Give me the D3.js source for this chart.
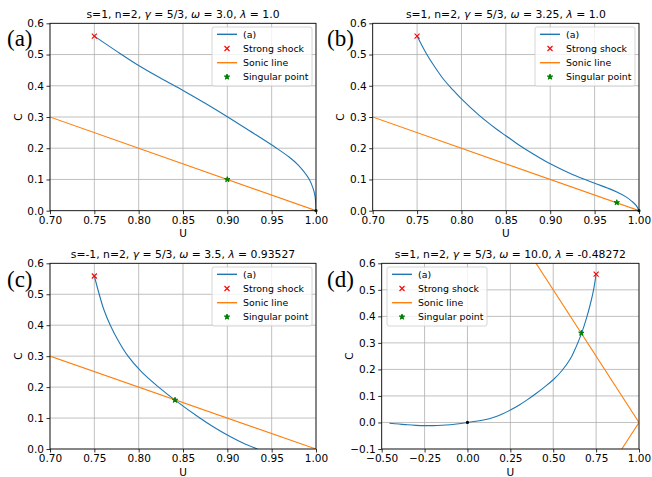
<!DOCTYPE html>
<html>
<head>
<meta charset="utf-8">
<script src="https://cdn.jsdelivr.net/npm/d3@7"></script>
<style>
  body { margin: 0; background: #fff; }
</style>
</head>
<body>
<svg width="652" height="477" font-family="DejaVu Sans, sans-serif"></svg>
<script>
// curve data (U, C)
var curveA_U = [0.75, 0.775, 0.80, 0.825, 0.85, 0.875, 0.90, 0.925, 0.9556, 0.97, 0.98, 0.9925, 0.997, 0.999, 1.0];
var curveA_C = [0.559, 0.511, 0.465, 0.424, 0.385, 0.344, 0.301, 0.256, 0.200, 0.171, 0.146, 0.100, 0.069, 0.045, 0.0];

var curveB_U = [0.75, 0.76, 0.77, 0.78, 0.79, 0.80, 0.82, 0.84, 0.85, 0.866, 0.88, 0.90, 0.925, 0.95, 0.965, 0.975, 0.985, 0.992, 0.997, 1.0];
var curveB_C = [0.559, 0.505, 0.460, 0.420, 0.388, 0.358, 0.305, 0.260, 0.240, 0.208, 0.183, 0.150, 0.116, 0.088, 0.072, 0.060, 0.045, 0.030, 0.016, 0.0];

var curveC_U = [0.75, 0.7555, 0.7608, 0.768, 0.777, 0.788, 0.803, 0.8225, 0.841, 0.869, 0.885, 0.90, 0.917, 0.934];
var curveC_C = [0.559, 0.50, 0.45, 0.40, 0.35, 0.30, 0.25, 0.20, 0.158, 0.10, 0.07, 0.045, 0.02, 0.0];

var curveD_U = [-0.455, -0.4, -0.35, -0.3, -0.25, -0.2, -0.15, -0.1, -0.05, 0.0, 0.05, 0.1, 0.15, 0.2, 0.25, 0.3, 0.35, 0.4, 0.45, 0.5, 0.55, 0.6, 0.632, 0.664, 0.697, 0.72, 0.736, 0.75];
var curveD_C = [-0.003, -0.006, -0.0088, -0.0108, -0.0119, -0.0119, -0.0107, -0.0083, -0.0047, 0.0, 0.0045, 0.0105, 0.019, 0.031, 0.047, 0.065, 0.086, 0.109, 0.134, 0.161, 0.195, 0.240, 0.283, 0.334, 0.400, 0.456, 0.503, 0.559];

// sonic line C = |1 - U|
var sonicU = [-0.5, 1.0, 0.5];
var sonicC = [1.5, 0.0, -0.5];

var shockU = 0.75, shockC = 0.559;
var singularA = [0.90, 0.10], singularB = [0.975, 0.026], singularC = [0.841, 0.158], singularD = [0.664, 0.337];
var originA = [1.0, 0.0], originB = [1.0, 0.0], originD = [0.0, 0.0];

var titles = [
  ["s=1, n=2, ", "3.0", "1.0"],
  ["s=1, n=2, ", "3.25", "1.0"],
  ["s=-1, n=2, ", "3.5", "0.93527"],
  ["s=1, n=2, ", "10.0", "-0.48272"]
];
var panelLabels = ["(a)", "(b)", "(c)", "(d)"];
var ticksX_ac = [0.70, 0.75, 0.80, 0.85, 0.90, 0.95, 1.00];
var ticksY_ac = [0.0, 0.1, 0.2, 0.3, 0.4, 0.5, 0.6];
var ticksX_d = [-0.50, -0.25, 0.00, 0.25, 0.50, 0.75, 1.00];
var ticksY_d = [-0.1, 0.0, 0.1, 0.2, 0.3, 0.4, 0.5, 0.6];
var legendNames = ["(a)", "Strong shock", "Sonic line", "Singular point"];

var blue = '#1f77b4', orange = '#ff7f0e';

var panels = [
  {box: [50, 316, 23.3, 210.7], xd: [0.7, 1.0], yd: [0, 0.6], xt: ticksX_ac, yt: ticksY_ac,
   U: curveA_U, C: curveA_C, sing: singularA, orig: originA, leg: [212, 27], lab: [7, 46]},
  {box: [372.7, 639, 23.3, 210.7], xd: [0.7, 1.0], yd: [0, 0.6], xt: ticksX_ac, yt: ticksY_ac,
   U: curveB_U, C: curveB_C, sing: singularB, orig: originB, leg: [535, 27], lab: [327, 46]},
  {box: [50, 316, 263.3, 449], xd: [0.7, 1.0], yd: [0, 0.6], xt: ticksX_ac, yt: ticksY_ac,
   U: curveC_U, C: curveC_C, sing: singularC, orig: null, leg: [212, 267], lab: [7, 287]},
  {box: [381.7, 639, 263.3, 449], xd: [-0.5, 1.0], yd: [-0.1, 0.6], xt: ticksX_d, yt: ticksY_d,
   U: curveD_U, C: curveD_C, sing: singularD, orig: originD, leg: [387, 267], lab: [327, 287]}
];

var svg = d3.select('svg');

var xMark = function(g, cx, cy) {
  var s = 2.5;
  g.append('path')
    .attr('d', 'M' + (cx - s) + ',' + (cy - s) + 'L' + (cx + s) + ',' + (cy + s) +
               'M' + (cx - s) + ',' + (cy + s) + 'L' + (cx + s) + ',' + (cy - s))
    .attr('stroke', 'red').attr('stroke-width', 1.1).attr('fill', 'none');
};
var starMark = function(g, cx, cy) {
  g.append('path')
    .attr('d', d3.symbol().type(d3.symbolStar).size(9)())
    .attr('transform', 'translate(' + cx + ',' + cy + ')')
    .attr('fill', 'green').attr('stroke', 'green').attr('stroke-width', 1);
};

panels.forEach(function(p, i) {
  var x = d3.scaleLinear().domain(p.xd).range([p.box[0], p.box[1]]);
  var y = d3.scaleLinear().domain(p.yd).range([p.box[3], p.box[2]]);
  var g = svg.append('g');

  // grid
  g.append('g').selectAll('line').data(p.xt).enter().append('line')
    .attr('x1', function(d) { return x(d); }).attr('x2', function(d) { return x(d); })
    .attr('y1', p.box[2]).attr('y2', p.box[3])
    .attr('stroke', '#b0b0b0').attr('stroke-width', 0.8);
  g.append('g').selectAll('line').data(p.yt).enter().append('line')
    .attr('y1', function(d) { return y(d); }).attr('y2', function(d) { return y(d); })
    .attr('x1', p.box[0]).attr('x2', p.box[1])
    .attr('stroke', '#b0b0b0').attr('stroke-width', 0.8);

  svg.append('clipPath').attr('id', 'clip' + i).append('rect')
    .attr('x', p.box[0]).attr('y', p.box[2])
    .attr('width', p.box[1] - p.box[0]).attr('height', p.box[3] - p.box[2]);

  var plot = g.append('g').attr('clip-path', 'url(#clip' + i + ')');

  var pts = p.U.map(function(u, k) { return [u, p.C[k]]; });
  var line = d3.line()
    .x(function(d) { return x(d[0]); })
    .y(function(d) { return y(d[1]); });

  plot.append('path').datum(pts)
    .attr('d', line.curve(d3.curveCatmullRom.alpha(0.5)))
    .attr('fill', 'none').attr('stroke', blue).attr('stroke-width', 1.1);

  var sonic = sonicU.map(function(u, k) { return [u, sonicC[k]]; });
  plot.append('path').datum(sonic)
    .attr('d', d3.line().x(function(d) { return x(d[0]); }).y(function(d) { return y(d[1]); }))
    .attr('fill', 'none').attr('stroke', orange).attr('stroke-width', 1.1);

  xMark(g, x(shockU), y(shockC));
  starMark(g, x(p.sing[0]), y(p.sing[1]));
  if (p.orig) {
    g.append('circle').attr('cx', x(p.orig[0])).attr('cy', y(p.orig[1])).attr('r', 1.6)
      .attr('fill', i === 3 ? 'black' : '#0a3d0a');
  }

  // axes
  var xf = d3.format('.2f'), yf = d3.format('.1f');
  var ax = g.append('g').attr('transform', 'translate(0,' + p.box[3] + ')')
    .call(d3.axisBottom(x).tickValues(p.xt).tickFormat(xf).tickSize(3.5).tickPadding(2.5));
  var ay = g.append('g').attr('transform', 'translate(' + p.box[0] + ',0)')
    .call(d3.axisLeft(y).tickValues(p.yt).tickFormat(yf).tickSize(3.5).tickPadding(2.5));
  [ax, ay].forEach(function(a) {
    a.select('.domain').remove();
    a.attr('font-family', 'DejaVu Sans, sans-serif');
    a.selectAll('text').attr('font-size', 10.5).attr('fill', '#000');
    a.selectAll('line').attr('stroke', '#000').attr('stroke-width', 0.8);
  });

  g.append('rect').attr('x', p.box[0]).attr('y', p.box[2])
    .attr('width', p.box[1] - p.box[0]).attr('height', p.box[3] - p.box[2])
    .attr('fill', 'none').attr('stroke', '#000').attr('stroke-width', 0.8);

  // axis labels
  var cx = (p.box[0] + p.box[1]) / 2, cy = (p.box[2] + p.box[3]) / 2;
  g.append('text').attr('x', cx).attr('y', p.box[3] + 26.5)
    .attr('text-anchor', 'middle').attr('font-size', 10.5).text('U');
  g.append('text').attr('transform', 'translate(' + (p.box[0] - 28.5) + ',' + cy + ') rotate(-90)')
    .attr('text-anchor', 'middle').attr('font-size', 10.5).text('C');

  // title
  var t = titles[i];
  var tt = g.append('text').attr('x', cx).attr('y', p.box[2] - 5)
    .attr('text-anchor', 'middle').attr('font-size', 10.8);
  tt.append('tspan').text(t[0]);
  tt.append('tspan').attr('font-style', 'italic').text('γ');
  tt.append('tspan').text(' = 5/3, ');
  tt.append('tspan').attr('font-style', 'italic').text('ω');
  tt.append('tspan').text(' = ' + t[1] + ', ');
  tt.append('tspan').attr('font-style', 'italic').text('λ');
  tt.append('tspan').text(' = ' + t[2]);

  // panel label
  svg.append('text').attr('x', p.lab[0]).attr('y', p.lab[1])
    .attr('font-family', 'Liberation Serif, Times New Roman, serif')
    .attr('font-size', 23).text(panelLabels[i]);

  // legend
  var lg = g.append('g').attr('transform', 'translate(' + p.leg[0] + ',' + p.leg[1] + ')');
  lg.append('rect').attr('width', 100).attr('height', 59).attr('rx', 2)
    .attr('fill', 'rgba(255,255,255,0.8)').attr('stroke', '#cccccc').attr('stroke-width', 0.8);
  legendNames.forEach(function(name, k) {
    var ry = 7.3 + k * 14.2;
    if (k === 0 || k === 2) {
      lg.append('line').attr('x1', 5).attr('x2', 25).attr('y1', ry).attr('y2', ry)
        .attr('stroke', k === 0 ? blue : orange).attr('stroke-width', 1.4);
    } else if (k === 1) {
      xMark(lg, 15, ry);
    } else {
      starMark(lg, 15, ry);
    }
    lg.append('text').attr('x', 31).attr('y', ry).attr('dy', '0.35em')
      .attr('font-size', 9.4).text(name);
  });
});
</script>
</body>
</html>
